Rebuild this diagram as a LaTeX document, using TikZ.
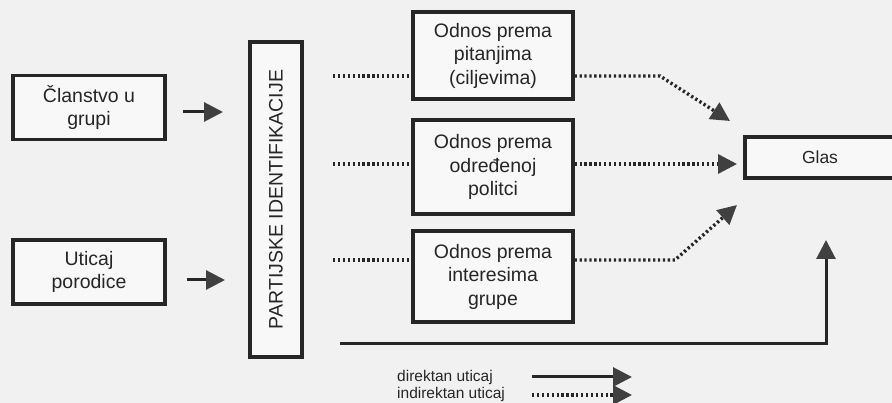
\documentclass[tikz,border=0pt]{standalone}
\usepackage{fontspec}
\setmainfont{Liberation Sans}
\usetikzlibrary{arrows.meta}
\definecolor{bg}{HTML}{F1F1F1}
\definecolor{boxfill}{HTML}{F8F8F8}
\definecolor{ink}{HTML}{262626}
\definecolor{tipc}{HTML}{404040}
\begin{document}
\begin{tikzpicture}[x=1pt,y=-1pt,
  box/.style={draw=ink, line width=3.2pt, fill=boxfill, align=center, inner sep=0pt,
    text=ink, font=\fontsize{19.5}{23.5}\selectfont},
  tip/.style={-{Triangle[length=19pt,width=19pt,fill=tipc,color=tipc]}},
  solidcon/.style={draw=ink, line width=3pt},
  dotcon/.style={draw=ink, line width=3.4pt, dash pattern=on 2.3pt off 2.6pt},
  legtext/.style={anchor=west, text=ink, inner sep=0pt, font=\fontsize{15.5}{16}\selectfont}]
\fill[bg] (0,0) rectangle (892,403);
\useasboundingbox (0,0) rectangle (892,403);
\clip (0,0) rectangle (892,403);

% left boxes
\node[box, minimum width=152pt, minimum height=64pt] (clan) at (89,107.5) {Članstvo u\\grupi};
\node[box, minimum width=152pt, minimum height=64pt] (utic) at (89,272) {Uticaj\\porodice};

% central box
\node[box, rotate=90, minimum width=315pt, minimum height=52pt] (part) at (276,199.5) {PARTIJSKE IDENTIFIKACIJE};

% odnos boxes
\node[box, minimum width=160pt, minimum height=87pt] (o1) at (493,55.5) {Odnos prema\\pitanjima\\(ciljevima)};
\node[box, minimum width=160pt, minimum height=94pt] (o2) at (493,167) {Odnos prema\\određenoj\\politci};
\node[box, minimum width=160pt, minimum height=91pt] (o3) at (493,276.5) {Odnos prema\\interesima\\grupe};

% glas box (cut off at right edge)
\node[box, minimum width=150pt, minimum height=41pt, font=\fontsize{17.5}{20}\selectfont] (glas) at (820,157.5) {Glas};

% coordinates for free ends
\coordinate (a1s) at (183,112);
\coordinate (a1e) at (223,112);
\coordinate (a2s) at (187,280);
\coordinate (a2e) at (225,280);
\coordinate (d1s) at (333,76);
\coordinate (d2s) at (333,164);
\coordinate (d3s) at (333,260);
\coordinate (k1) at (660,76);
\coordinate (t1) at (730,121);
\coordinate (t2) at (737,164);
\coordinate (k3) at (675,260);
\coordinate (t3) at (737,205);
\coordinate (bs) at (340,344);
\coordinate (bk) at (826,344);
\coordinate (bt) at (826,240);

% direct arrows into party identification
\draw[solidcon, tip] (a1s) -- (a1e);
\draw[solidcon, tip] (a2s) -- (a2e);

% dotted lines from party id to odnos boxes
\draw[dotcon] (d1s) -- (d1s -| o1.west);
\draw[dotcon] (d2s) -- (d2s -| o2.west);
\draw[dotcon] (d3s) -- (d3s -| o3.west);

% dotted arrows to glas
\draw[dotcon, tip] (o1.east |- k1) -- (k1) -- (t1);
\draw[dotcon, tip] (o2.east |- t2) -- (t2);
\draw[dotcon, tip] (o3.east |- k3) -- (k3) -- (t3);

% direct line to glas
\draw[solidcon, tip] (bs) -- (bk) -- (bt);

% legend
\node[legtext] (l1) at (397,377) {direktan uticaj};
\node[legtext] (l2) at (397,394) {indirektan uticaj};
\coordinate (ls1) at (532,377);
\coordinate (le1) at (632,377);
\coordinate (ls2) at (532,395);
\coordinate (le2) at (632,395);
\draw[solidcon, tip] (ls1) -- (le1);
\draw[dotcon, tip] (ls2) -- (le2);
\end{tikzpicture}
\end{document}
